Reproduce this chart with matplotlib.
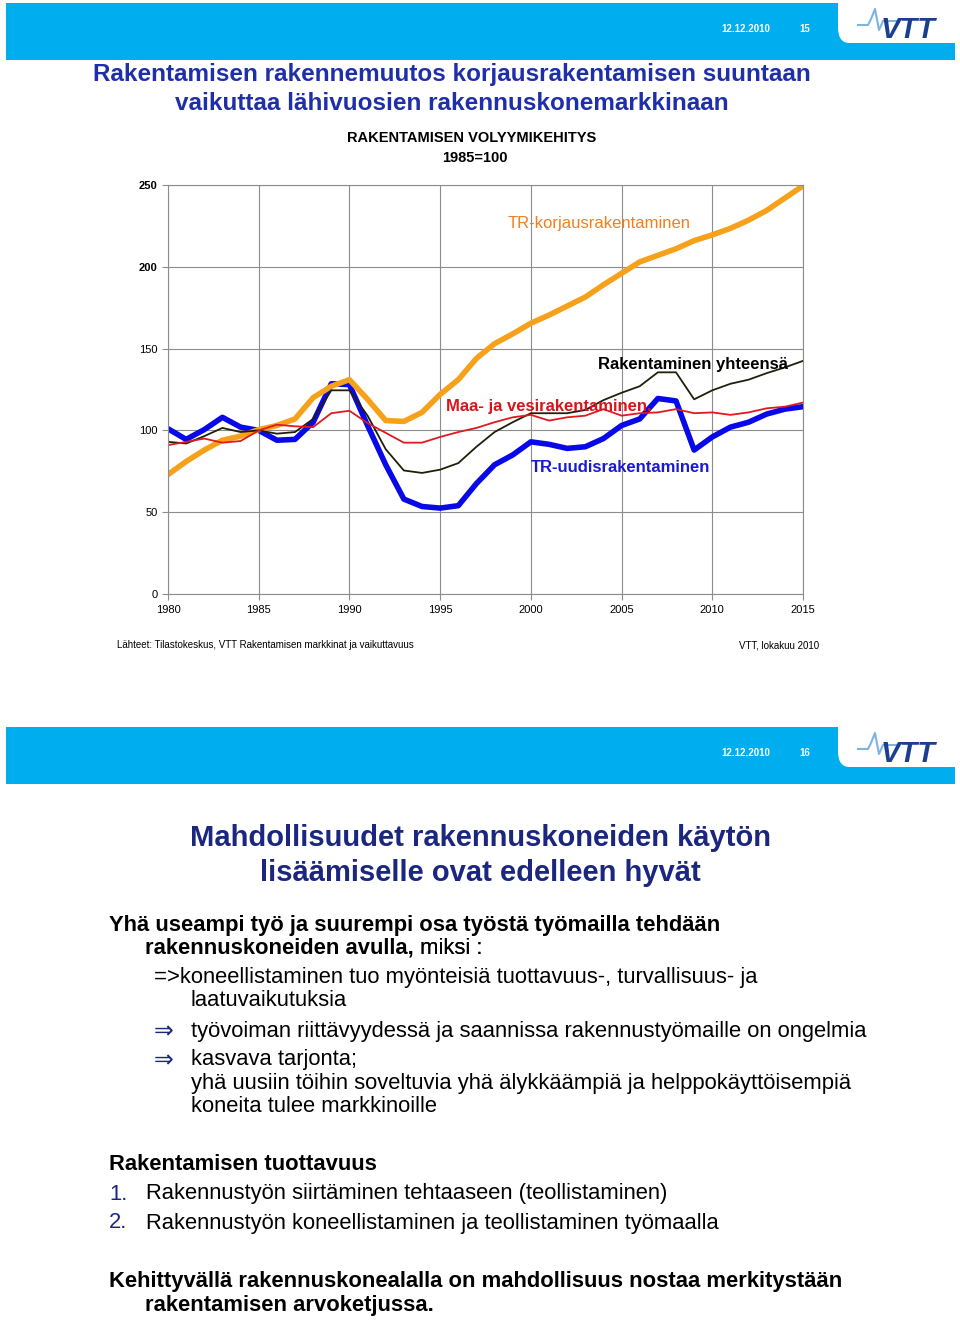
import numpy as np
import matplotlib
matplotlib.use("Agg")
from matplotlib import pyplot as plt
from matplotlib.patches import Rectangle, FancyBboxPatch
from matplotlib.lines import Line2D

# data (1985=100)
years = list(range(1980, 2016))
korjaus = [73, 81, 88, 94, 96.5, 100.5, 103, 107, 120, 127, 131, 119, 106, 105.5, 111,
           122, 131, 144, 153, 159, 165.5, 170.5, 176, 181.5, 189, 196, 203, 207, 211,
           216, 219.5, 223.5, 228.5, 234.5, 242, 249.5]
uudis = [101, 94.5, 100.5, 108, 102, 100, 94, 94.5, 105, 128.5, 128, 103, 79, 58, 53.5,
         52.5, 54, 67.5, 79, 85, 93, 91.5, 89, 90, 95, 103, 107, 119.5, 118, 88, 96,
         102, 105, 110, 113, 114.5]
yhteensa = [93, 92, 96.5, 101.5, 99, 100, 98, 99, 107, 124.5, 124.5, 109, 88.5, 75.5, 74,
            76, 80, 90, 99, 105, 110.5, 110.5, 110.5, 112.5, 118.5, 123, 127, 135.5, 135.5,
            119, 124.5, 128.5, 131, 135, 138.5, 142.5]
maavesi = [91, 93, 95, 92.5, 93.5, 100, 103.5, 102.5, 102, 110.5, 112, 104.5, 98.5, 92.5,
           92.5, 96, 99, 101.5, 105, 108, 109.5, 106, 108, 109, 113, 109, 110.5, 111, 113,
           110.5, 111, 109.5, 111, 113.5, 114.5, 117]

x_ticks = [1980, 1985, 1990, 1995, 2000, 2005, 2010, 2015]
y_ticks = [0, 50, 100, 150, 200, 250]

W, H = 960, 1320
plt.rcParams['font.family'] = ['Liberation Sans', 'DejaVu Sans']

fig = plt.figure(figsize=(W / 100, H / 100), dpi=100)


def px(x, y):
    return x / W, 1 - y / H


def text(x, y, s, **kw):
    kw.setdefault('va', 'center')
    return fig.text(*px(x, y), s, **kw)


band = '#00aeef'
navy = '#1a2680'


def header(top, num):
    fig.add_artist(Rectangle(px(6, top + 57), 949 / W, 57 / H, transform=fig.transFigure,
                             facecolor=band, edgecolor='none'))
    fig.add_artist(FancyBboxPatch(px(838, top + 40), 140 / W, 60 / H, transform=fig.transFigure,
                                  boxstyle='round,pad=0,rounding_size=0.012',
                                  facecolor='white', edgecolor='none'))
    text(746, top + 26, '12.12.2010', color='white', fontsize=7, ha='center', weight='bold')
    text(805, top + 26, num, color='white', fontsize=7, ha='center', weight='bold')
    text(908, top + 27, 'VTT', color='#1a3f8f', fontsize=21, weight='bold', style='italic',
         ha='center')
    # little wave above the logo
    wx = [858, 868, 871, 875, 879, 883, 896]
    wy = [22, 22, 16, 6, 27, 18, 18]
    fig.add_artist(Line2D([a / W for a in wx], [1 - (b + top) / H for b in wy],
                          transform=fig.transFigure, color='#7fb3e0', lw=1.5))


# ---- slide 15 ----
header(3, '15')
title_c = '#1f2fa8'
text(452, 74, 'Rakentamisen rakennemuutos korjausrakentamisen suuntaan', color=title_c,
     fontsize=17.5, weight='bold', ha='center')
text(452, 103, 'vaikuttaa lähivuosien rakennuskonemarkkinaan', color=title_c,
     fontsize=17.5, weight='bold', ha='center')
text(472, 138, 'RAKENTAMISEN VOLYYMIKEHITYS', fontsize=10.5, weight='bold', ha='center')
text(475, 158, '1985=100', fontsize=10.5, weight='bold', ha='center')

ax = fig.add_axes([168 / W, 1 - 594 / H, 635 / W, 409 / H])
ax.plot(years, uudis, color='#0808e8', lw=4.0)
ax.plot(years, korjaus, color='#f7a11a', lw=4.0)
ax.plot(years, yhteensa, color='#20200a', lw=1.3)
ax.plot(years, maavesi, color='#e0191e', lw=1.3)
ax.set_xlim(1980, 2015)
ax.set_ylim(0, 250)
ax.set_xticks(x_ticks)
ax.set_yticks(y_ticks)
ax.grid(True, color='#8c8c8c', lw=0.8)
for s in ax.spines.values():
    s.set_color('#8c8c8c')
    s.set_linewidth(0.8)
ax.tick_params(length=4, width=0.8, color='#8c8c8c', labelsize=8)
ax.tick_params(axis='x', pad=4)
for lbl in ax.get_yticklabels():
    if lbl.get_text() in ('200', '250'):
        lbl.set_fontweight('bold')

ax.text(1998.7, 226.5, 'TR-korjausrakentaminen', color='#f0801e', fontsize=12, va='center')
ax.text(2003.7, 140, 'Rakentaminen yhteensä', color='black', fontsize=12, weight='bold',
        va='center')
ax.text(1995.3, 114.8, 'Maa- ja vesirakentaminen.', color='#d9141c', fontsize=12,
        weight='bold', va='center')
ax.text(2000.0, 77.5, 'TR-uudisrakentaminen', color='#1a1ad0', fontsize=12, weight='bold',
        va='center')

text(117, 645, 'Lähteet: Tilastokeskus, VTT Rakentamisen markkinat ja vaikuttavuus',
     fontsize=7)
text(819, 645, 'VTT, lokakuu 2010', fontsize=7, ha='right')

# ---- slide 16 ----
header(727, '16')
text(480, 838, 'Mahdollisuudet rakennuskoneiden käytön', color=navy, fontsize=21,
     weight='bold', ha='center')
text(480, 873, 'lisäämiselle ovat edelleen hyvät', color=navy, fontsize=21,
     weight='bold', ha='center')

fs = 15.8
text(109, 925, 'Yhä useampi työ ja suurempi osa työstä työmailla tehdään', fontsize=fs,
     weight='bold')
t = text(145, 948, 'rakennuskoneiden avulla,', fontsize=fs, weight='bold')
ann = plt.annotate(' miksi :', xy=(1, 0.5), xycoords=t, va='center', ha='left', fontsize=fs,
                   annotation_clip=False)
fig.add_artist(ann)
text(154, 978, '=>koneellistaminen tuo myönteisiä tuottavuus-, turvallisuus- ja', fontsize=fs)
text(191, 1001, 'laatuvaikutuksia', fontsize=fs)
text(154, 1031, '⇒', fontsize=17, color=navy, family=['DejaVu Sans'])
text(191, 1031, 'työvoiman riittävyydessä ja saannissa rakennustyömaille on ongelmia',
     fontsize=fs)
text(154, 1060, '⇒', fontsize=17, color=navy, family=['DejaVu Sans'])
text(191, 1060, 'kasvava tarjonta;', fontsize=fs)
text(191, 1083, 'yhä uusiin töihin soveltuvia yhä älykkäämpiä ja helppokäyttöisempiä',
     fontsize=fs)
text(191, 1107, 'koneita tulee markkinoille', fontsize=fs)

text(109, 1165, 'Rakentamisen tuottavuus', fontsize=fs, weight='bold')
text(109, 1194, '1.', fontsize=fs, color=navy)
text(146, 1194, 'Rakennustyön siirtäminen tehtaaseen (teollistaminen)', fontsize=fs)
text(109, 1223, '2.', fontsize=fs, color=navy)
text(146, 1223, 'Rakennustyön koneellistaminen ja teollistaminen työmaalla', fontsize=fs)

text(109, 1281, 'Kehittyvällä rakennuskonealalla on mahdollisuus nostaa merkitystään',
     fontsize=fs, weight='bold')
text(145, 1305, 'rakentamisen arvoketjussa.', fontsize=fs, weight='bold')

fig.savefig('out.png', dpi=100)
